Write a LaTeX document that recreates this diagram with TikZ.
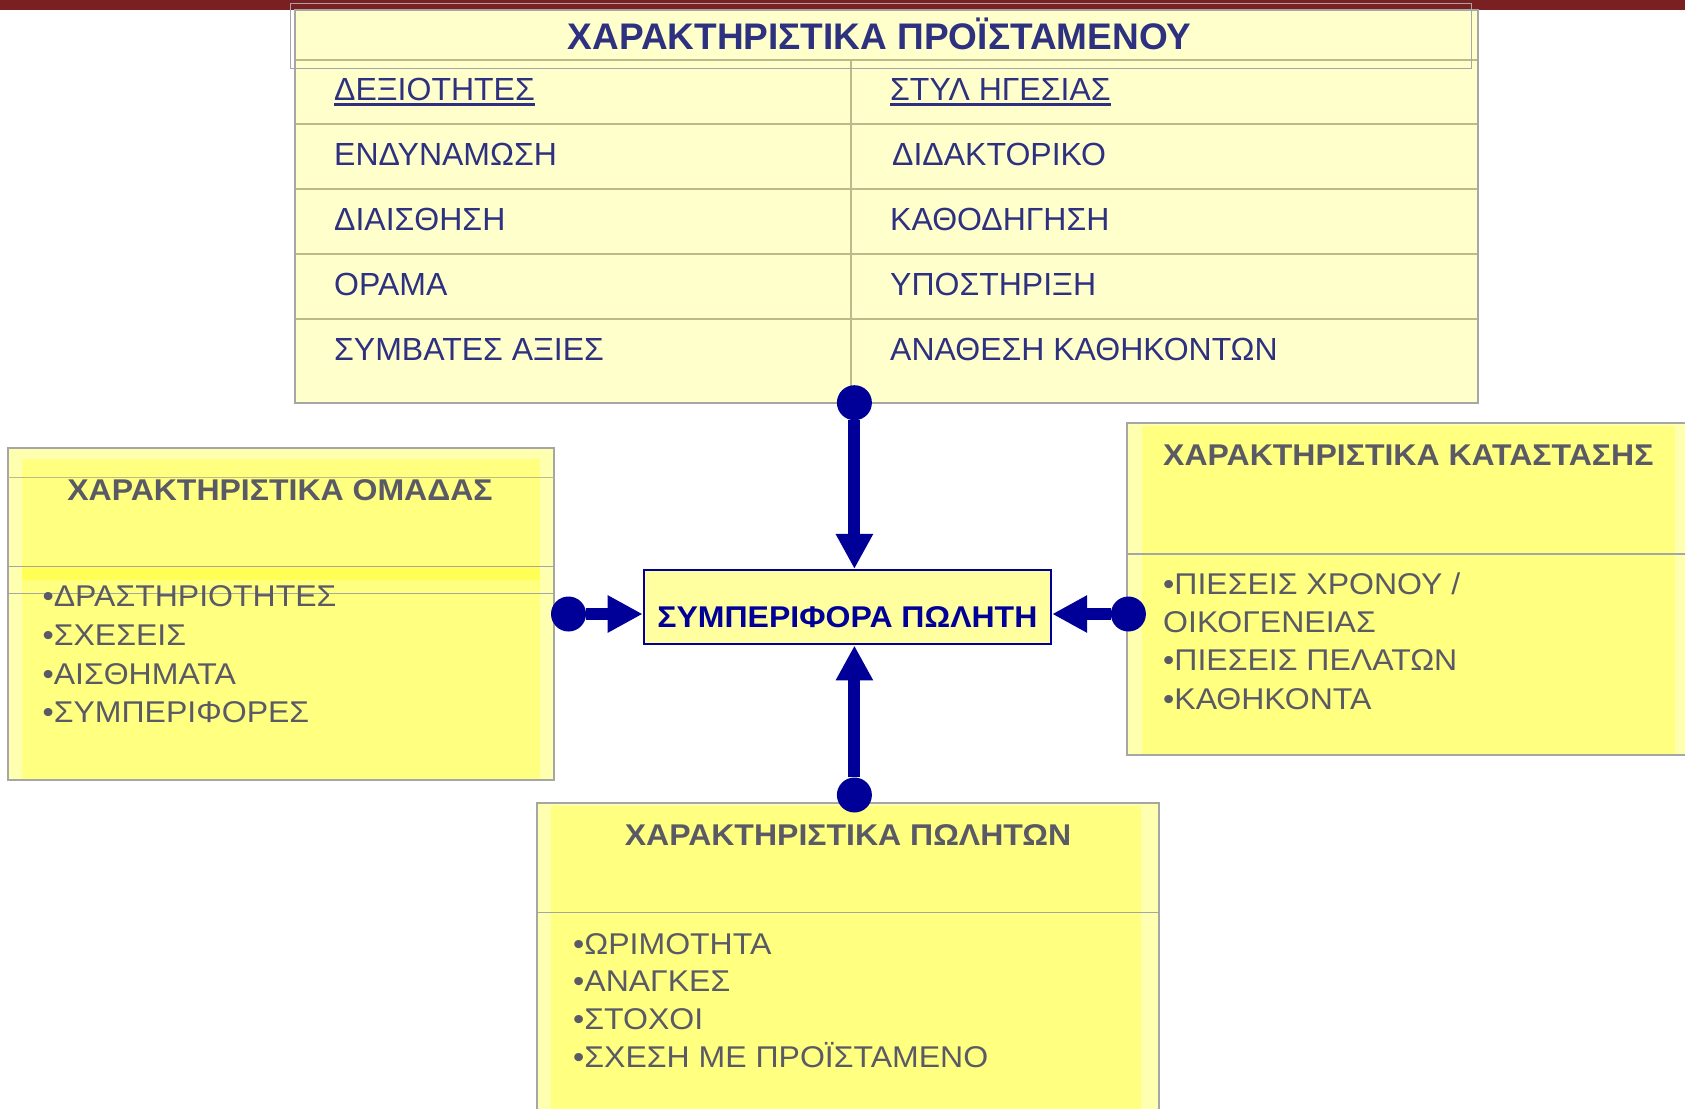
\documentclass[tikz,border=0pt]{standalone}
\usepackage{fontspec}
\setmainfont{Liberation Sans}
\newfontfamily\widesans[FakeStretch=1.067]{Liberation Sans}
\usetikzlibrary{arrows.meta, calc}

\definecolor{barred}{RGB}{122,31,34}
\definecolor{tabfill}{RGB}{255,255,204}
\definecolor{tabline}{RGB}{189,186,138}
\definecolor{tabtext}{RGB}{46,49,128}
\definecolor{boxgray}{RGB}{166,166,166}
\definecolor{paleyel}{RGB}{255,255,176}
\definecolor{yel}{RGB}{255,255,128}
\definecolor{bandyel}{RGB}{255,255,85}
\definecolor{greytext}{RGB}{90,90,102}
\definecolor{arrblue}{RGB}{0,0,153}
\definecolor{spfill}{RGB}{255,255,160}

\newcommand\headul[1]{\setbox0\hbox{#1}\rlap{\rule[-5.5pt]{\wd0}{2.5pt}}\box0}

\begin{document}
\begin{tikzpicture}[x=1pt, y=-1pt,
	cell/.style={anchor=base west, inner sep=0, text=tabtext, font=\fontsize{32}{38}\selectfont},
	boxtitle/.style={inner sep=0, text=greytext, font=\widesans\bfseries\fontsize{30}{36}\selectfont},
	item/.style={anchor=base west, inner sep=0, text=greytext, font=\widesans\fontsize{30}{36}\selectfont},
	knob/.style={circle, fill=arrblue, minimum size=35pt, inner sep=0},
	conn/.style={arrblue, line width=12pt, -{Triangle[width=35pt,length=35pt]}},
	pane/.style={fill=paleyel, draw=boxgray, line width=2pt}]
	\useasboundingbox (0,0) rectangle (1685,1108);
	\fill [barred] (0,0) rectangle (1685,10);

	% table of the supervisor
	\fill [tabfill] (295,10) rectangle (1478,403);
	\draw [tabline, line width=1.5pt] (295,60) -- (1478,60);
	\foreach \y in {124,189,254,319}
		\draw [tabline, line width=1.5pt] (295,\y) -- (1478,\y);
	\draw [tabline, line width=1.5pt] (851,60) -- (851,403);
	\draw [boxgray, line width=2pt] (295,10) rectangle (1478,403);
	\draw [boxgray, line width=1.2pt] (290.7,3.3) rectangle (1471.7,68.3);

	\node [anchor=base, inner sep=0, text=tabtext, font=\bfseries\fontsize{37}{43}\selectfont] (boss) at (879.6,50) {ΧΑΡΑΚΤΗΡΙΣΤΙΚΑ ΠΡΟΪΣΤΑΜΕΝΟΥ};

	\node [cell] (sk0) at (334,100) {\headul{ΔΕΞΙΟΤΗΤΕΣ}};
	\node [cell] (sk1) at (334,165) {ΕΝΔΥΝΑΜΩΣΗ};
	\node [cell] (sk2) at (334,230) {ΔΙΑΙΣΘΗΣΗ};
	\node [cell] (sk3) at (334,295) {ΟΡΑΜΑ};
	\node [cell] (sk4) at (334,360.5) {ΣΥΜΒΑΤΕΣ ΑΞΙΕΣ};

	\node [cell] (st0) at (890,100) {\headul{ΣΤΥΛ ΗΓΕΣΙΑΣ}};
	\node [cell] (st1) at (892,165) {ΔΙΔΑΚΤΟΡΙΚΟ};
	\node [cell] (st2) at (890,230) {ΚΑΘΟΔΗΓΗΣΗ};
	\node [cell] (st3) at (890,295) {ΥΠΟΣΤΗΡΙΞΗ};
	\node [cell] (st4) at (890,360.5) {ΑΝΑΘΕΣΗ ΚΑΘΗΚΟΝΤΩΝ};

	% group box
	\draw [pane] (8,448.3) rectangle (553.6,780);
	\fill [yel] (22,459.3) rectangle (540,779);
	\fill [bandyel] (22,567) rectangle (540,580);
	\draw [tabline, line width=1.2pt] (8,477.3) -- (553.6,477.3);
	\draw [boxgray, line width=1.2pt] (8,566.7) -- (553.6,566.7);
	\draw [boxgray, line width=1.2pt] (8,593.3) -- (553.6,593.3);
	\node [boxtitle, anchor=base] (grp) at (280,500.7) {ΧΑΡΑΚΤΗΡΙΣΤΙΚΑ ΟΜΑΔΑΣ};
	\node [item] (grp1) at (42.4,606.7) {•ΔΡΑΣΤΗΡΙΟΤΗΤΕΣ};
	\node [item] (grp2) at (42.4,645.3) {•ΣΧΕΣΕΙΣ};
	\node [item] (grp3) at (42.4,684) {•ΑΙΣΘΗΜΑΤΑ};
	\node [item] (grp4) at (42.4,722.7) {•ΣΥΜΠΕΡΙΦΟΡΕΣ};

	% situation box
	\draw [pane] (1127,423.3) rectangle (1700,755);
	\fill [yel] (1142,426) rectangle (1675,754);
	\draw [boxgray, line width=1.2pt] (1127,554) -- (1685,554);
	\node [boxtitle, anchor=base west] (sit) at (1163,465) {ΧΑΡΑΚΤΗΡΙΣΤΙΚΑ ΚΑΤΑΣΤΑΣΗΣ};
	\node [item] (sit1) at (1163,594) {•ΠΙΕΣΕΙΣ ΧΡΟΝΟΥ /};
	\node [item] (sit2) at (1163,632) {ΟΙΚΟΓΕΝΕΙΑΣ};
	\node [item] (sit3) at (1163,670.5) {•ΠΙΕΣΕΙΣ ΠΕΛΑΤΩΝ};
	\node [item] (sit4) at (1163,709) {•ΚΑΘΗΚΟΝΤΑ};

	% salesmen box
	\draw [pane] (537.3,803.3) rectangle (1158.6,1120);
	\fill [yel] (551,806) rectangle (1141,1120);
	\draw [boxgray, line width=1.2pt] (537.3,912.3) -- (1158.6,912.3);
	\node [boxtitle, anchor=base] (sal) at (848,845) {ΧΑΡΑΚΤΗΡΙΣΤΙΚΑ ΠΩΛΗΤΩΝ};
	\node [item] (sal1) at (573,954) {•ΩΡΙΜΟΤΗΤΑ};
	\node [item] (sal2) at (573,991.7) {•ΑΝΑΓΚΕΣ};
	\node [item] (sal3) at (573,1029.5) {•ΣΤΟΧΟΙ};
	\node [item] (sal4) at (573,1067.3) {•ΣΧΕΣΗ ΜΕ ΠΡΟΪΣΤΑΜΕΝΟ};

	% centre
	\node [draw=arrblue, line width=2.5pt, fill=spfill, minimum width=407pt, minimum height=74pt, inner sep=0, text height=40pt, text depth=0pt, text=arrblue, font=\widesans\bfseries\fontsize{30}{36}\selectfont] (sp) at (847.4,607.2) {ΣΥΜΠΕΡΙΦΟΡΑ ΠΩΛΗΤΗ};

	\node [knob] (topdot) at (854.4,402.7) {};
	\node [knob] (botdot) at (854.4,795) {};
	\node [knob] (leftdot) at (568.5,614) {};
	\node [knob] (rightdot) at (1128.4,614) {};

	\draw [conn] (topdot) -- (topdot |- sp.north);
	\draw [conn] (botdot) -- (botdot |- sp.south);
	\draw [conn] (leftdot) -- (leftdot -| sp.west);
	\draw [conn] (rightdot) -- (rightdot -| sp.east);
\end{tikzpicture}
\end{document}
